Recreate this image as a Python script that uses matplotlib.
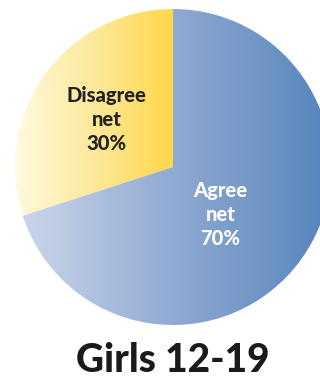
import matplotlib
matplotlib.use("Agg")
import matplotlib.pyplot as plt
import numpy as np
from matplotlib.colors import LinearSegmentedColormap

# data
labels = ["Disagree\nnet\n30%", "Agree\nnet\n70%"]
values = [30, 70]
label_colors = ["#222222", "white"]
title = "Girls 12-19"

W, H = 320, 386
fig = plt.figure(figsize=(W / 100, H / 100), dpi=100)
cx, cy, r = 173, 167, 158
ax = fig.add_axes([(cx - r) / W, (H - cy - r) / H, 2 * r / W, 2 * r / H])

wedges, _ = ax.pie(values, startangle=90, counterclock=True, radius=1,
                   wedgeprops=dict(linewidth=0))

yellow = LinearSegmentedColormap.from_list("y", ["#fff9e0", "#fde99a", "#ffd84a"])
blue = LinearSegmentedColormap.from_list("b", ["#cbd5ea", "#8fa9d2", "#5584bb"])
grad = np.linspace(0, 1, 256).reshape(1, -1)

# yellow gradient spans the slice's horizontal extent, blue spans the whole pie
for w, cmap, ext in [(wedges[0], yellow, (-1, 0, -1, 1)),
                     (wedges[1], blue, (-0.95, 1, -1, 1))]:
    w.set_facecolor("none")
    im = ax.imshow(grad, cmap=cmap, extent=ext, aspect="auto", zorder=0)
    im.set_clip_path(w)
ax.set_xlim(-1, 1)
ax.set_ylim(-1, 1)
ax.set_aspect("equal")
ax.axis("off")

ax.text(-0.42, 0.3, labels[0], ha="center", va="center", fontsize=14.5,
        fontweight="black", family="Lato", color=label_colors[0], linespacing=1.3)
ax.text(0.3, -0.3, labels[1], ha="center", va="center", fontsize=14.5,
        fontweight="black", family="Lato", color=label_colors[1], linespacing=1.3)

fig.text(cx / W, 1 - 361 / H, title, ha="center", va="center", fontsize=28,
         fontweight="black", family="Lato", color="#1a1a1a")

fig.savefig("out.png", dpi=100)
